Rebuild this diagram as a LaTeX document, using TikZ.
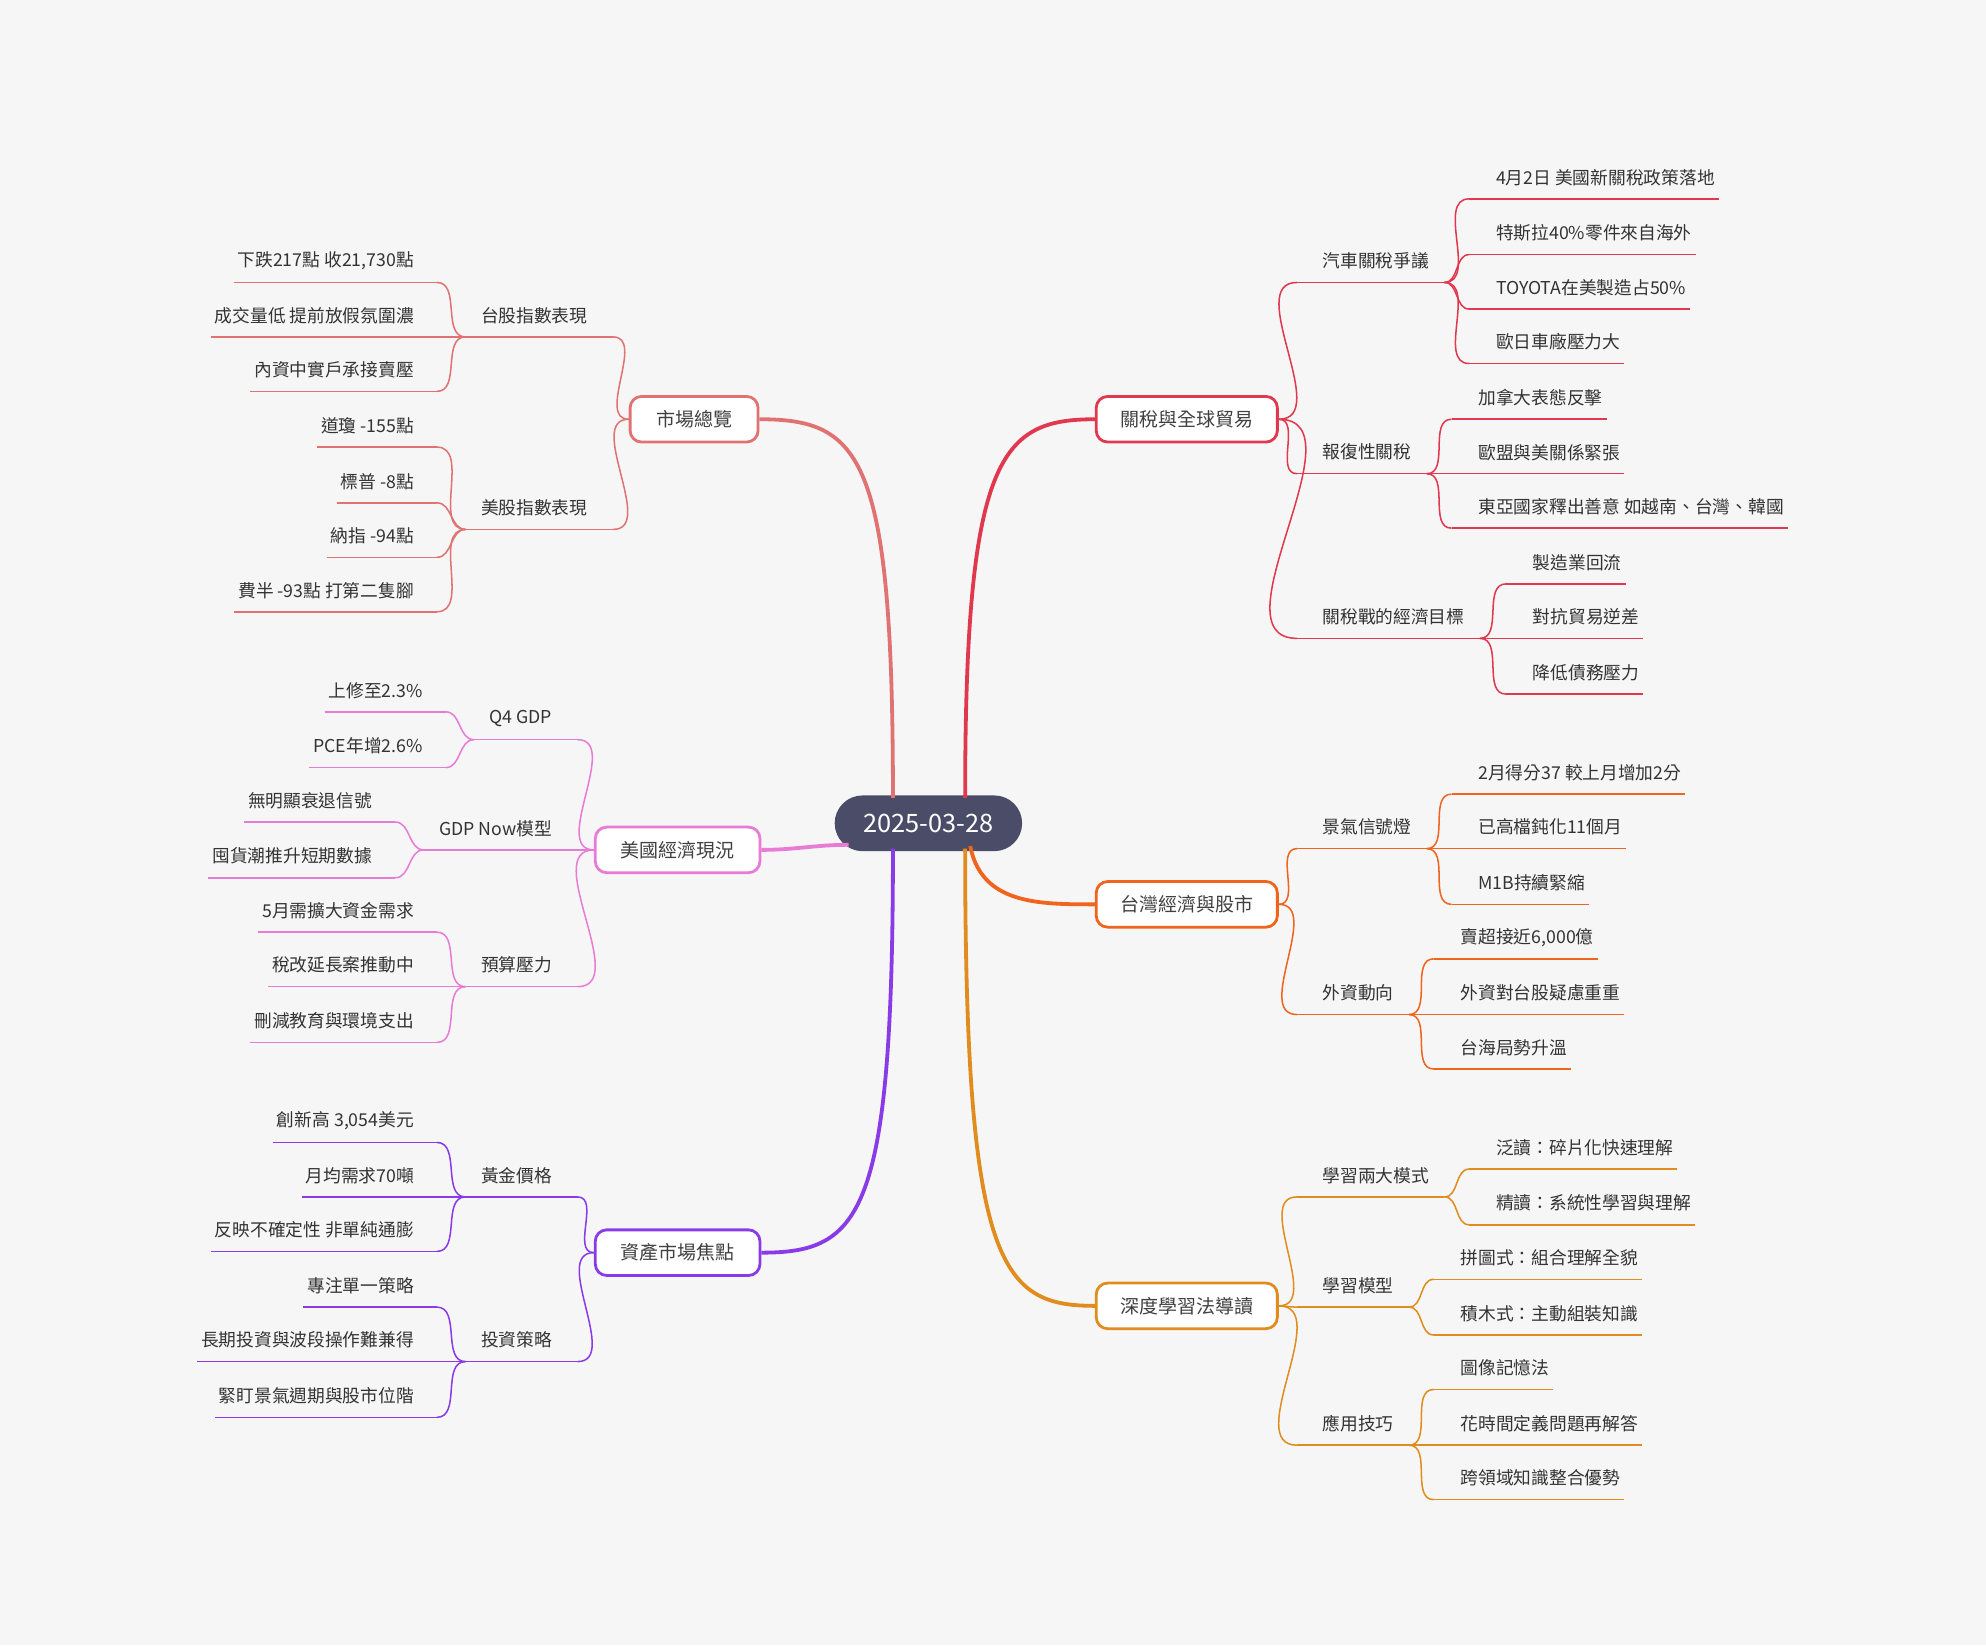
\documentclass[tikz,border=0pt]{standalone}
\usepackage{fontspec}
\setmainfont{Noto Sans CJK TC}
\begin{document}
\begin{tikzpicture}[x=1pt,y=-1pt,
 t/.style={inner sep=0pt,text=black!80,font=\fontsize{14}{16}\selectfont},
 br/.style={draw=cc,line width=1.2pt},
 mn/.style={draw=cc,line width=2.2pt,fill=white,rounded corners=9pt,minimum height=36pt,text=black!75,font=\fontsize{15}{17}\selectfont},
 mc/.style={draw=cc,line width=3pt}]
\fill[black!3.5] (0,0) rectangle (1568,1299);
\useasboundingbox (0,0) rectangle (1568,1299);
\definecolor{cR1}{HTML}{E0384F}\definecolor{cR2}{HTML}{F0641E}\definecolor{cR3}{HTML}{E08C1E}
\definecolor{cL1}{HTML}{E07272}\definecolor{cL2}{HTML}{E87BD6}\definecolor{cL3}{HTML}{8A3BE8}
\definecolor{cC}{HTML}{4A4C68}
\newcommand\rtwo[3]{\node[t,anchor=west](#1) at (1044,#2){#3};\coordinate(#1s) at (1024,#2+17);\coordinate(#1e) at ([xshift=12pt]#1.east|-#1s);\draw[br](#1s)--(#1e);\draw[br](\pnode.east) to[out=0,in=180](#1s);}
\newcommand\rleaf[5]{\node[t,anchor=west](#2) at (#3,#4){#5};\coordinate(#2s) at (#3-21,#4+17);\coordinate(#2e) at ([xshift=3pt]#2.east|-#2s);\draw[br](#2s)--(#2e);\draw[br](#1e) to[out=0,in=180](#2s);}
\newcommand\ltwo[4]{\node[t,anchor=east](#1) at (#2,#3){#4};\coordinate(#1e) at (#2+20,#3+17);\coordinate(#1s) at ([xshift=-12pt]#1.west|-#1e);\draw[br](#1s)--(#1e);\draw[br](\pnode.west) to[out=180,in=0](#1e);}
\newcommand\lleaf[5]{\node[t,anchor=east](#2) at (#3,#4){#5};\coordinate(#2e) at (#3+18,#4+17);\coordinate(#2s) at ([xshift=-3pt]#2.west|-#2e);\draw[br](#2s)--(#2e);\draw[br](#1s) to[out=180,in=0](#2e);}
% center
\node[fill=cC,rounded corners=22pt,minimum width=148pt,minimum height=44pt,text=white,font=\fontsize{20}{22}\selectfont] (c) at (733,650) {2025-03-28};
% right 1
\colorlet{cc}{cR1}
\node[mn,minimum width=143pt] (r1) at (937,331) {關稅與全球貿易};
\draw[mc] (762,630) .. controls (762,360) and (790,331) .. (r1.west);
\def\pnode{r1}
\rtwo{a1}{206}{汽車關稅爭議}
\rleaf{a1}{a11}{1181}{140}{4月2日 美國新關稅政策落地}
\rleaf{a1}{a12}{1181}{184}{特斯拉40\%零件來自海外}
\rleaf{a1}{a13}{1181}{227}{TOYOTA在美製造占50\%}
\rleaf{a1}{a14}{1181}{270}{歐日車廠壓力大}
\rtwo{a2}{357}{報復性關稅}
\rleaf{a2}{a21}{1167}{314}{加拿大表態反擊}
\rleaf{a2}{a22}{1167}{357}{歐盟與美關係緊張}
\rleaf{a2}{a23}{1167}{400}{東亞國家釋出善意 如越南、台灣、韓國}
\rtwo{a3}{487}{關稅戰的經濟目標}
\rleaf{a3}{a31}{1210}{444}{製造業回流}
\rleaf{a3}{a32}{1210}{487}{對抗貿易逆差}
\rleaf{a3}{a33}{1210}{531}{降低債務壓力}
% right 2
\colorlet{cc}{cR2}
\node[mn,minimum width=143pt] (r2) at (937,714) {台灣經濟與股市};
\draw[mc] (766,668) .. controls (775,714) and (820,714) .. (r2.west);
\def\pnode{r2}
\rtwo{b1}{653}{景氣信號燈}
\rleaf{b1}{b11}{1167}{610}{2月得分37 較上月增加2分}
\rleaf{b1}{b12}{1167}{653}{已高檔鈍化11個月}
\rleaf{b1}{b13}{1167}{697}{M1B持續緊縮}
\rtwo{b2}{784}{外資動向}
\rleaf{b2}{b21}{1153}{740}{賣超接近6,000億}
\rleaf{b2}{b22}{1153}{784}{外資對台股疑慮重重}
\rleaf{b2}{b23}{1153}{827}{台海局勢升溫}
% right 3
\colorlet{cc}{cR3}
\node[mn,minimum width=143pt] (r3) at (937,1031) {深度學習法導讀};
\draw[mc] (762,670) .. controls (762,1000) and (790,1031) .. (r3.west);
\def\pnode{r3}
\rtwo{d1}{928}{學習兩大模式}
\rleaf{d1}{d11}{1181}{906}{泛讀：碎片化快速理解}
\rleaf{d1}{d12}{1181}{950}{精讀：系統性學習與理解}
\rtwo{d2}{1015}{學習模型}
\rleaf{d2}{d21}{1153}{993}{拼圖式：組合理解全貌}
\rleaf{d2}{d22}{1153}{1037}{積木式：主動組裝知識}
\rtwo{d3}{1124}{應用技巧}
\rleaf{d3}{d31}{1153}{1080}{圖像記憶法}
\rleaf{d3}{d32}{1153}{1124}{花時間定義問題再解答}
\rleaf{d3}{d33}{1153}{1167}{跨領域知識整合優勢}
% left 1
\colorlet{cc}{cL1}
\node[mn,minimum width=101pt] (l1) at (548,331) {市場總覽};
\draw[mc] (705,630) .. controls (705,360) and (680,331) .. (l1.east);
\def\pnode{l1}
\ltwo{e1}{464}{249}{台股指數表現}
\lleaf{e1}{e11}{327}{206}{下跌217點 收21,730點}
\lleaf{e1}{e12}{327}{249}{成交量低 提前放假氛圍濃}
\lleaf{e1}{e13}{327}{292}{內資中實戶承接賣壓}
\ltwo{e2}{464}{401}{美股指數表現}
\lleaf{e2}{e21}{327}{336}{道瓊 -155點}
\lleaf{e2}{e22}{327}{380}{標普 -8點}
\lleaf{e2}{e23}{327}{423}{納指 -94點}
\lleaf{e2}{e24}{327}{466}{費半 -93點 打第二隻腳}
% left 2
\colorlet{cc}{cL2}
\node[mn,minimum width=130pt] (l2) at (535,671) {美國經濟現況};
\draw[mc] (670,667) to[out=180,in=0] (l2.east);
\def\pnode{l2}
\ltwo{f1}{436}{567}{Q4 GDP}
\lleaf{f1}{f11}{334}{545}{上修至2.3\%}
\lleaf{f1}{f12}{334}{589}{PCE年增2.6\%}
\ltwo{f2}{436}{654}{GDP Now模型}
\lleaf{f2}{f21}{294}{632}{無明顯衰退信號}
\lleaf{f2}{f22}{294}{676}{囤貨潮推升短期數據}
\ltwo{f3}{436}{762}{預算壓力}
\lleaf{f3}{f31}{327}{719}{5月需擴大資金需求}
\lleaf{f3}{f32}{327}{762}{稅改延長案推動中}
\lleaf{f3}{f33}{327}{806}{刪減教育與環境支出}
% left 3
\colorlet{cc}{cL3}
\node[mn,minimum width=130pt] (l3) at (535,989) {資產市場焦點};
\draw[mc] (705,670) .. controls (705,960) and (680,989) .. (l3.east);
\def\pnode{l3}
\ltwo{g1}{436}{928}{黃金價格}
\lleaf{g1}{g11}{327}{885}{創新高 3,054美元}
\lleaf{g1}{g12}{327}{928}{月均需求70噸}
\lleaf{g1}{g13}{327}{971}{反映不確定性 非單純通膨}
\ltwo{g2}{436}{1058}{投資策略}
\lleaf{g2}{g21}{327}{1015}{專注單一策略}
\lleaf{g2}{g22}{327}{1058}{長期投資與波段操作難兼得}
\lleaf{g2}{g23}{327}{1102}{緊盯景氣週期與股市位階}
\end{tikzpicture}
\end{document}
